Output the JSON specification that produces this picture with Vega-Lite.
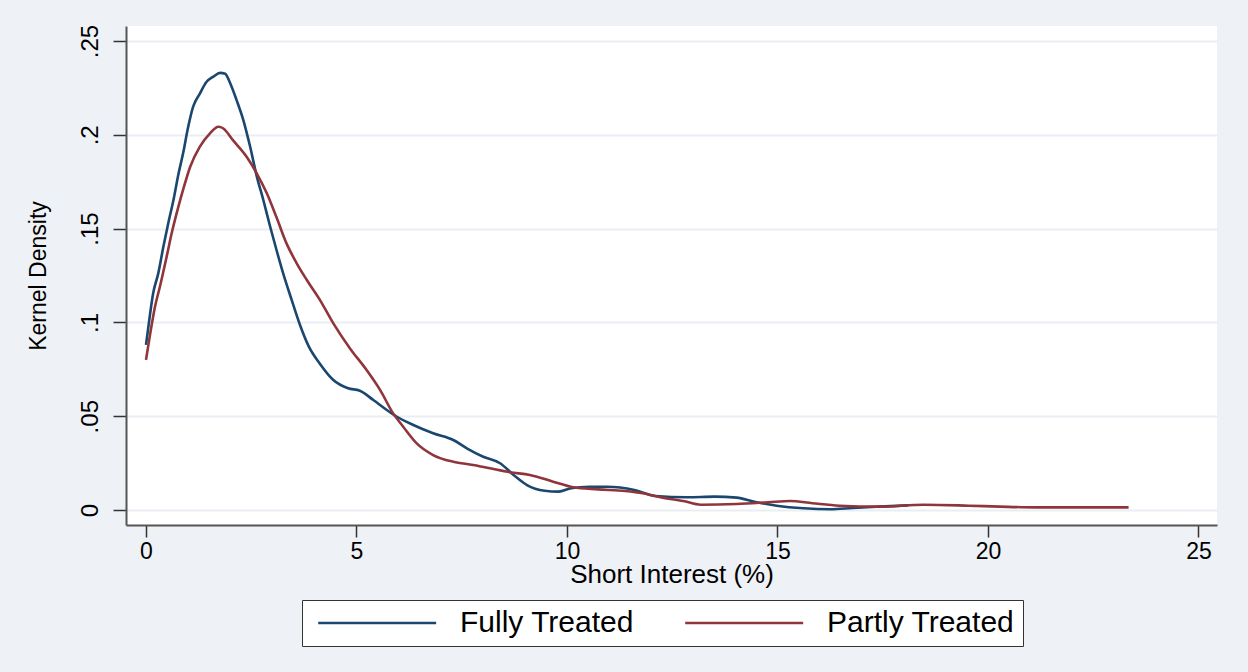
{
  "$schema": "https://vega.github.io/schema/vega-lite/v6.json",
  "width": 1091,
  "height": 499,
  "autosize": {"type": "none"},
  "padding": {"left": 126, "top": 26, "right": 31, "bottom": 147},
  "background": "#eef1f6",
  "config": {
    "view": {"fill": "white", "stroke": null},
    "font": "Liberation Sans",
    "axis": {
      "labelFont": "Liberation Sans",
      "titleFont": "Liberation Sans",
      "labelColor": "black",
      "titleColor": "black",
      "titleFontWeight": "normal",
      "domainColor": "#555555",
      "domainWidth": 2,
      "tickColor": "#333333",
      "tickWidth": 1.5,
      "gridColor": "#e9eef4",
      "gridWidth": 2
    }
  },
  "data": {
    "values": [
      {"si": 0.0, "density": 0.088, "group": "Fully Treated"},
      {"si": 0.1, "density": 0.105, "group": "Fully Treated"},
      {"si": 0.17, "density": 0.1155, "group": "Fully Treated"},
      {"si": 0.29, "density": 0.126, "group": "Fully Treated"},
      {"si": 0.41, "density": 0.14, "group": "Fully Treated"},
      {"si": 0.53, "density": 0.153, "group": "Fully Treated"},
      {"si": 0.65, "density": 0.165, "group": "Fully Treated"},
      {"si": 0.77, "density": 0.179, "group": "Fully Treated"},
      {"si": 0.88, "density": 0.19, "group": "Fully Treated"},
      {"si": 1.0, "density": 0.204, "group": "Fully Treated"},
      {"si": 1.12, "density": 0.215, "group": "Fully Treated"},
      {"si": 1.28, "density": 0.222, "group": "Fully Treated"},
      {"si": 1.43, "density": 0.228, "group": "Fully Treated"},
      {"si": 1.6, "density": 0.231, "group": "Fully Treated"},
      {"si": 1.76, "density": 0.233, "group": "Fully Treated"},
      {"si": 1.88, "density": 0.2325, "group": "Fully Treated"},
      {"si": 2.0, "density": 0.2275, "group": "Fully Treated"},
      {"si": 2.15, "density": 0.2186, "group": "Fully Treated"},
      {"si": 2.31, "density": 0.208, "group": "Fully Treated"},
      {"si": 2.47, "density": 0.194, "group": "Fully Treated"},
      {"si": 2.63, "density": 0.178, "group": "Fully Treated"},
      {"si": 2.79, "density": 0.165, "group": "Fully Treated"},
      {"si": 2.95, "density": 0.151, "group": "Fully Treated"},
      {"si": 3.1, "density": 0.1386, "group": "Fully Treated"},
      {"si": 3.26, "density": 0.126, "group": "Fully Treated"},
      {"si": 3.46, "density": 0.112, "group": "Fully Treated"},
      {"si": 3.66, "density": 0.0985, "group": "Fully Treated"},
      {"si": 3.86, "density": 0.0875, "group": "Fully Treated"},
      {"si": 4.13, "density": 0.078, "group": "Fully Treated"},
      {"si": 4.45, "density": 0.0693, "group": "Fully Treated"},
      {"si": 4.8, "density": 0.0649, "group": "Fully Treated"},
      {"si": 5.08, "density": 0.0636, "group": "Fully Treated"},
      {"si": 5.4, "density": 0.0586, "group": "Fully Treated"},
      {"si": 5.72, "density": 0.0533, "group": "Fully Treated"},
      {"si": 5.96, "density": 0.0497, "group": "Fully Treated"},
      {"si": 6.35, "density": 0.0453, "group": "Fully Treated"},
      {"si": 6.82, "density": 0.0409, "group": "Fully Treated"},
      {"si": 7.3, "density": 0.0373, "group": "Fully Treated"},
      {"si": 7.62, "density": 0.0329, "group": "Fully Treated"},
      {"si": 8.01, "density": 0.0284, "group": "Fully Treated"},
      {"si": 8.41, "density": 0.0249, "group": "Fully Treated"},
      {"si": 8.73, "density": 0.0187, "group": "Fully Treated"},
      {"si": 9.05, "density": 0.0133, "group": "Fully Treated"},
      {"si": 9.47, "density": 0.0103, "group": "Fully Treated"},
      {"si": 9.8, "density": 0.0098, "group": "Fully Treated"},
      {"si": 10.1, "density": 0.0116, "group": "Fully Treated"},
      {"si": 10.53, "density": 0.0124, "group": "Fully Treated"},
      {"si": 10.95, "density": 0.0124, "group": "Fully Treated"},
      {"si": 11.6, "density": 0.0107, "group": "Fully Treated"},
      {"si": 12.1, "density": 0.0075, "group": "Fully Treated"},
      {"si": 12.86, "density": 0.0068, "group": "Fully Treated"},
      {"si": 13.5, "density": 0.0071, "group": "Fully Treated"},
      {"si": 14.03, "density": 0.0066, "group": "Fully Treated"},
      {"si": 14.45, "density": 0.0044, "group": "Fully Treated"},
      {"si": 14.98, "density": 0.0023, "group": "Fully Treated"},
      {"si": 15.62, "density": 0.0009, "group": "Fully Treated"},
      {"si": 16.26, "density": 0.0004, "group": "Fully Treated"},
      {"si": 16.79, "density": 0.0011, "group": "Fully Treated"},
      {"si": 17.42, "density": 0.0018, "group": "Fully Treated"},
      {"si": 18.11, "density": 0.0025, "group": "Fully Treated"},

      {"si": 0.0, "density": 0.08, "group": "Partly Treated"},
      {"si": 0.1, "density": 0.094, "group": "Partly Treated"},
      {"si": 0.21, "density": 0.108, "group": "Partly Treated"},
      {"si": 0.33, "density": 0.119, "group": "Partly Treated"},
      {"si": 0.49, "density": 0.135, "group": "Partly Treated"},
      {"si": 0.61, "density": 0.1475, "group": "Partly Treated"},
      {"si": 0.77, "density": 0.1617, "group": "Partly Treated"},
      {"si": 0.88, "density": 0.1706, "group": "Partly Treated"},
      {"si": 1.05, "density": 0.183, "group": "Partly Treated"},
      {"si": 1.28, "density": 0.1937, "group": "Partly Treated"},
      {"si": 1.52, "density": 0.2008, "group": "Partly Treated"},
      {"si": 1.72, "density": 0.2043, "group": "Partly Treated"},
      {"si": 1.83, "density": 0.2035, "group": "Partly Treated"},
      {"si": 2.07, "density": 0.197, "group": "Partly Treated"},
      {"si": 2.39, "density": 0.1883, "group": "Partly Treated"},
      {"si": 2.63, "density": 0.1795, "group": "Partly Treated"},
      {"si": 2.87, "density": 0.1688, "group": "Partly Treated"},
      {"si": 3.1, "density": 0.156, "group": "Partly Treated"},
      {"si": 3.34, "density": 0.142, "group": "Partly Treated"},
      {"si": 3.58, "density": 0.1315, "group": "Partly Treated"},
      {"si": 3.82, "density": 0.1226, "group": "Partly Treated"},
      {"si": 4.13, "density": 0.112, "group": "Partly Treated"},
      {"si": 4.45, "density": 0.0995, "group": "Partly Treated"},
      {"si": 4.85, "density": 0.086, "group": "Partly Treated"},
      {"si": 5.24, "density": 0.0746, "group": "Partly Treated"},
      {"si": 5.56, "density": 0.064, "group": "Partly Treated"},
      {"si": 5.87, "density": 0.0515, "group": "Partly Treated"},
      {"si": 6.11, "density": 0.0444, "group": "Partly Treated"},
      {"si": 6.43, "density": 0.0355, "group": "Partly Treated"},
      {"si": 6.82, "density": 0.0293, "group": "Partly Treated"},
      {"si": 7.3, "density": 0.0257, "group": "Partly Treated"},
      {"si": 7.77, "density": 0.024, "group": "Partly Treated"},
      {"si": 8.17, "density": 0.0222, "group": "Partly Treated"},
      {"si": 8.65, "density": 0.0201, "group": "Partly Treated"},
      {"si": 9.12, "density": 0.0187, "group": "Partly Treated"},
      {"si": 9.67, "density": 0.0151, "group": "Partly Treated"},
      {"si": 10.15, "density": 0.0121, "group": "Partly Treated"},
      {"si": 10.74, "density": 0.011, "group": "Partly Treated"},
      {"si": 11.38, "density": 0.0101, "group": "Partly Treated"},
      {"si": 11.8, "density": 0.0089, "group": "Partly Treated"},
      {"si": 12.22, "density": 0.0068, "group": "Partly Treated"},
      {"si": 12.76, "density": 0.0048, "group": "Partly Treated"},
      {"si": 13.18, "density": 0.0028, "group": "Partly Treated"},
      {"si": 14.03, "density": 0.0032, "group": "Partly Treated"},
      {"si": 14.77, "density": 0.0041, "group": "Partly Treated"},
      {"si": 15.3, "density": 0.0048, "group": "Partly Treated"},
      {"si": 15.83, "density": 0.0036, "group": "Partly Treated"},
      {"si": 16.47, "density": 0.0023, "group": "Partly Treated"},
      {"si": 17.42, "density": 0.0018, "group": "Partly Treated"},
      {"si": 18.48, "density": 0.0028, "group": "Partly Treated"},
      {"si": 19.54, "density": 0.0023, "group": "Partly Treated"},
      {"si": 20.28, "density": 0.0018, "group": "Partly Treated"},
      {"si": 21.13, "density": 0.0014, "group": "Partly Treated"},
      {"si": 22.2, "density": 0.0014, "group": "Partly Treated"},
      {"si": 23.34, "density": 0.0014, "group": "Partly Treated"}
    ]
  },
  "mark": {"type": "line", "interpolate": "monotone", "strokeWidth": 2.6},
  "encoding": {
    "x": {
      "field": "si",
      "type": "quantitative",
      "title": "Short Interest (%)",
      "scale": {"domain": [-0.475, 25.44], "nice": false, "zero": false},
      "axis": {
        "values": [0, 5, 10, 15, 20, 25],
        "grid": false,
        "tickSize": 12,
        "labelPadding": 3,
        "labelFontSize": 23,
        "titleFontSize": 26,
        "titlePadding": -2
      }
    },
    "y": {
      "field": "density",
      "type": "quantitative",
      "title": "Kernel Density",
      "scale": {"domain": [-0.008, 0.258], "nice": false, "zero": false},
      "axis": {
        "values": [0, 0.05, 0.1, 0.15, 0.2, 0.25],
        "labelExpr": "datum.value == 0 ? '0' : replace(format(datum.value, '~g'), '0.', '.')",
        "tickSize": 13,
        "labelAngle": -90,
        "labelAlign": "center",
        "labelBaseline": "bottom",
        "labelPadding": 11,
        "labelFontSize": 24,
        "titleFontSize": 23,
        "titlePadding": 28
      }
    },
    "color": {
      "field": "group",
      "type": "nominal",
      "title": null,
      "scale": {"domain": ["Fully Treated", "Partly Treated"], "range": ["#1a476f", "#90353b"]},
      "legend": {
        "orient": "none",
        "direction": "horizontal",
        "legendX": 176,
        "legendY": 574,
        "fillColor": "white",
        "strokeColor": "#333333",
        "padding": 8,
        "symbolType": "M-0.576,0H9.42",
        "symbolSize": 557,
        "symbolStrokeWidth": 2.5,
        "symbolFillColor": "transparent",
        "labelFont": "Liberation Sans",
        "labelFontSize": 30,
        "labelLimit": 0,
        "labelColor": "black",
        "labelOffset": 120,
        "columnPadding": 43
      }
    }
  }
}
